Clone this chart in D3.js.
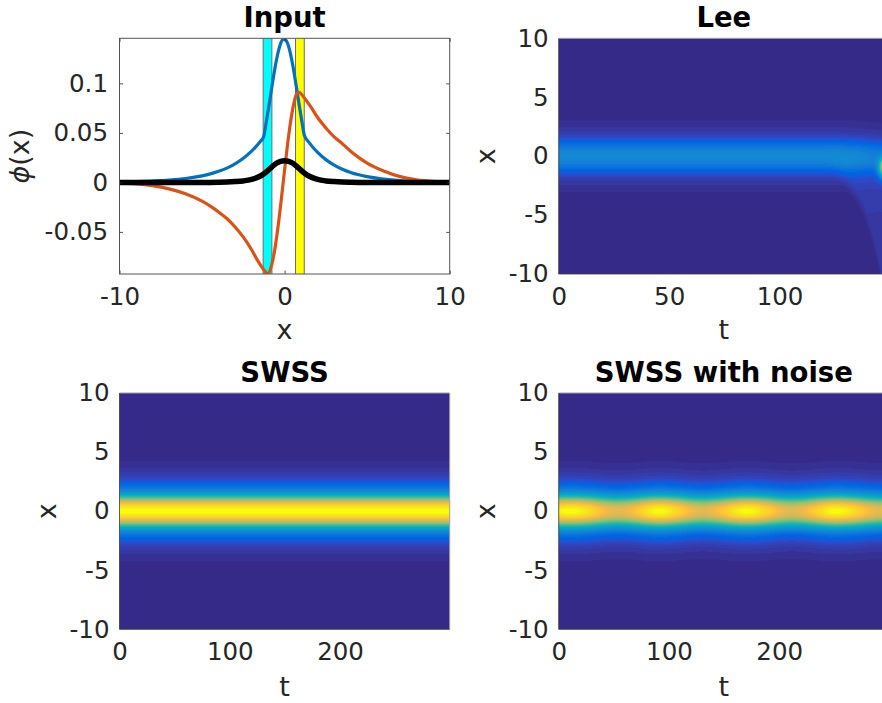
<!DOCTYPE html>
<html>
<head>
<meta charset="utf-8">
<script src="https://cdn.jsdelivr.net/npm/d3@7"></script>
<style>
  html, body { margin: 0; padding: 0; background: #fff; }
  svg { display: block; font-family: 'DejaVu Sans', sans-serif; }
</style>
</head>
<body>
<svg id="fig" width="882" height="703"></svg>
<script>
// ---------------- data: "Input" panel ----------------
const phiXTicks = [-10, 0, 10];
const phiYTicks = [-0.05, 0, 0.05, 0.1];
const phiYTickLabels = ["-0.05", "0", "0.05", "0.1"];

const blueX = [-10, -9, -8, -7, -6, -5, -4.5, -4, -3.5, -3, -2.5, -2, -1.75, -1.5, -1.27,
  -1.1, -0.9, -0.7, -0.5, -0.3, -0.15, 0, 0.15, 0.3, 0.5, 0.7, 0.9, 1.05, 1.2,
  1.5, 1.75, 2, 2.5, 3, 3.5, 4, 4.5, 5, 6, 7, 8, 9, 10];
const blueY = [0.0005, 0.0008, 0.0014, 0.0023, 0.0039, 0.0066, 0.0086, 0.0112, 0.0144, 0.0187, 0.0243, 0.0315, 0.0358, 0.0408, 0.046,
  0.0622, 0.0828, 0.104, 0.1231, 0.1373, 0.1435, 0.1449, 0.1416, 0.1338, 0.1178, 0.0978, 0.0765, 0.0612, 0.0473,
  0.0399, 0.0347, 0.0303, 0.0230, 0.0175, 0.0133, 0.0101, 0.0077, 0.0058, 0.0034, 0.0019, 0.0011, 0.0006, 0.0004];

const orangeX = [-10, -9, -8, -7, -6, -5, -4.5, -4, -3.5, -3, -2.5, -2, -1.7, -1.4, -1.2, -1.05,
  -0.8, -0.6, -0.4, -0.2, 0, 0.2, 0.4, 0.6, 0.75, 0.88,
  1.05, 1.3, 1.6, 2, 2.5, 3, 3.5, 4, 4.5, 5, 6, 7, 8, 9, 10];
const orangeY = [-0.0008, -0.0015, -0.0033, -0.0065, -0.0115, -0.019, -0.024, -0.0298, -0.0365, -0.045, -0.0553, -0.068, -0.077, -0.085, -0.0895, -0.0925,
  -0.0845, -0.0684, -0.0451, -0.0171, 0.0127, 0.0412, 0.0653, 0.0826, 0.09, 0.091,
  0.0885, 0.083, 0.076, 0.0655, 0.055, 0.046, 0.039, 0.0315, 0.025, 0.0195, 0.0115, 0.0058, 0.0025, 0.001, 0.0004];

const blackX = [-10, -5, -4, -3.5, -3, -2.5, -2, -1.5, -1.25, -1, -0.75, -0.5, -0.25, 0,
  0.25, 0.5, 0.75, 1, 1.25, 1.5, 2, 2.5, 3, 3.5, 4, 5, 10];
const blackY = [0, 0, 0.0002, 0.0004, 0.0008, 0.0015, 0.003, 0.0062, 0.0088, 0.0122, 0.016, 0.0193, 0.0212, 0.0218,
  0.0212, 0.0193, 0.016, 0.0122, 0.0088, 0.0062, 0.003, 0.0015, 0.0008, 0.0004, 0.0002, 0, 0];

const cyanBand = [-1.3, -0.77];
const yellowBand = [0.66, 1.19];

// ---------------- data: space-time maps ----------------
const mapXTicks = [-10, -5, 0, 5, 10];
const leeTTicks = [0, 50, 100];
const swssTTicks = [0, 100, 200];

// soliton intensity profile |x| -> relative level
const profX = [0, 0.25, 0.5, 0.75, 1, 1.25, 1.5, 1.75, 2, 2.25, 2.5, 2.75, 3, 3.25, 3.5, 3.75, 4, 4.25, 4.5, 5, 5.5, 6, 7, 10];
const profV = [1, 0.975, 0.9, 0.78, 0.63, 0.48, 0.36, 0.26, 0.19, 0.145, 0.11, 0.083, 0.063, 0.048, 0.037, 0.028, 0.021, 0.016, 0.012, 0.007, 0.004, 0.002, 0.0005, 0];

// breathing peak level of the noisy run
const noiseT = [0, 10, 20, 30, 40, 50, 60, 70, 80, 90, 100, 110, 120, 130, 140, 150, 160, 170, 180, 190, 200, 210, 220, 230, 240, 250, 260, 270, 280, 290, 300];
const noiseAmp = [0.98, 1.0, 0.98, 0.92, 0.84, 0.79, 0.8, 0.86, 0.95, 1.0, 0.97, 0.9, 0.82, 0.78, 0.81, 0.88, 0.96, 1.0, 0.97, 0.9, 0.82, 0.78, 0.8, 0.87, 0.95, 1.0, 0.98, 0.92, 0.84, 0.79, 0.8];

// Lee scheme: weak band, then collapse near the end of the run
const leeBandLevel = 0.27;
const leeFadeT = [0, 125, 135, 142, 150];
const leeFadeA = [1, 1, 0.92, 0.8, 0.7];
const leeFrontT = [120, 128, 134, 139, 143, 146];
const leeFrontX = [-1.5, -2.5, -4, -6, -8.5, -11];
const leeRadLevel = 0.045;
const leeSpot = { t: 147.5, x: -1.0, st: 2.6, sx: 0.8, peak: 0.6 };

// parula colormap (64 entries)
const parula = [
[0.2081,0.1663,0.5292],[0.2116,0.1898,0.5777],[0.2123,0.2138,0.6270],[0.2081,0.2386,0.6771],
[0.1959,0.2645,0.7279],[0.1707,0.2919,0.7792],[0.1253,0.3242,0.8303],[0.0591,0.3598,0.8683],
[0.0117,0.3875,0.8820],[0.0060,0.4086,0.8828],[0.0165,0.4266,0.8786],[0.0329,0.4430,0.8720],
[0.0498,0.4586,0.8641],[0.0629,0.4737,0.8554],[0.0723,0.4887,0.8467],[0.0779,0.5040,0.8384],
[0.0793,0.5200,0.8312],[0.0749,0.5375,0.8263],[0.0641,0.5570,0.8240],[0.0488,0.5772,0.8228],
[0.0343,0.5966,0.8199],[0.0265,0.6137,0.8135],[0.0239,0.6287,0.8038],[0.0231,0.6418,0.7913],
[0.0228,0.6535,0.7768],[0.0267,0.6642,0.7607],[0.0384,0.6743,0.7436],[0.0590,0.6838,0.7254],
[0.0843,0.6928,0.7062],[0.1133,0.7015,0.6859],[0.1453,0.7098,0.6646],[0.1801,0.7177,0.6424],
[0.2178,0.7250,0.6193],[0.2586,0.7317,0.5954],[0.3022,0.7376,0.5712],[0.3482,0.7424,0.5473],
[0.3953,0.7459,0.5244],[0.4420,0.7481,0.5033],[0.4871,0.7491,0.4840],[0.5300,0.7491,0.4661],
[0.5709,0.7485,0.4494],[0.6099,0.7473,0.4337],[0.6473,0.7456,0.4188],[0.6834,0.7435,0.4044],
[0.7184,0.7411,0.3905],[0.7525,0.7384,0.3768],[0.7858,0.7356,0.3633],[0.8185,0.7327,0.3498],
[0.8507,0.7299,0.3360],[0.8824,0.7274,0.3217],[0.9139,0.7258,0.3063],[0.9450,0.7261,0.2886],
[0.9739,0.7314,0.2666],[0.9938,0.7455,0.2403],[0.9990,0.7653,0.2164],[0.9955,0.7861,0.1967],
[0.9880,0.8066,0.1794],[0.9789,0.8271,0.1633],[0.9697,0.8481,0.1475],[0.9626,0.8705,0.1309],
[0.9589,0.8949,0.1132],[0.9598,0.9218,0.0948],[0.9661,0.9514,0.0755],[0.9763,0.9831,0.0538]];

// ---------------- layout ----------------
const TICK_FS = 24.5, LABEL_FS = 27, TITLE_FS = 27.5;
const TXT = "#262626";
const panels = {
  input: { l: 119.5, r: 449.7, t: 38.3, b: 274 },
  lee:   { l: 558.7, r: 888.9, t: 38.3, b: 274 },
  swss:  { l: 119.5, r: 449.7, t: 393, b: 629.3 },
  noise: { l: 558.7, r: 888.9, t: 393, b: 629.3 }
};
const fmt = d => String(d);

const svg = d3.select("#fig");

// cubic Hermite lookup through read samples
function hermite(xs, ys) {
  const n = xs.length;
  const m = ys.map((_, i) => i === 0 ? (ys[1] - ys[0]) / (xs[1] - xs[0])
    : i === n - 1 ? (ys[n - 1] - ys[n - 2]) / (xs[n - 1] - xs[n - 2])
    : (ys[i + 1] - ys[i - 1]) / (xs[i + 1] - xs[i - 1]));
  return v => {
    if (v <= xs[0]) return ys[0];
    if (v >= xs[n - 1]) return ys[n - 1];
    const i = Math.min(n - 2, d3.bisectRight(xs, v) - 1);
    const h = xs[i + 1] - xs[i], s = (v - xs[i]) / h, s2 = s * s, s3 = s2 * s;
    return (2 * s3 - 3 * s2 + 1) * ys[i] + (s3 - 2 * s2 + s) * h * m[i]
      + (-2 * s3 + 3 * s2) * ys[i + 1] + (s3 - s2) * h * m[i + 1];
  };
}

const fullProfX = profX.slice(1).reverse().map(v => -v).concat(profX);
const fullProfV = profV.slice(1).reverse().concat(profV);
const profile = hermite(fullProfX, fullProfV);
const P = x => Math.max(0, profile(x));

const noiseLevel = hermite(noiseT, noiseAmp);
const leeFade = d3.scaleLinear().domain(leeFadeT).range(leeFadeA).clamp(true);
const leeFront = hermite(leeFrontT, leeFrontX);

function colorOf(v) {
  const idx = Math.max(0, Math.min(63, Math.floor(v * 64)));
  return parula[idx];
}

// ---------------- Input panel ----------------
(function drawInput() {
  const p = panels.input;
  const x = d3.scaleLinear().domain([-10, 10]).range([p.l, p.r]);
  const y = d3.scaleLinear().domain([-0.0925, 0.1455]).range([p.b, p.t]);
  const g = svg.append("g");

  g.append("clipPath").attr("id", "clipInput")
    .append("rect").attr("x", p.l).attr("y", p.t).attr("width", p.r - p.l).attr("height", p.b - p.t);

  const body = g.append("g").attr("clip-path", "url(#clipInput)");
  [[cyanBand, "#00ffff"], [yellowBand, "#ffff00"]].forEach(([band, col]) => {
    body.append("rect")
      .attr("x", x(band[0])).attr("y", p.t - 2)
      .attr("width", x(band[1]) - x(band[0])).attr("height", p.b - p.t + 4)
      .attr("fill", col).attr("stroke", "#6e6e6e").attr("stroke-width", 1);
  });

  const line = (xs, ys) => d3.line().x((d, i) => x(xs[i])).y((d, i) => y(ys[i])).curve(d3.curveMonotoneX)(xs);
  body.append("path").attr("d", line(blueX, blueY)).attr("fill", "none").attr("stroke", "#0072bd").attr("stroke-width", 3.2);
  body.append("path").attr("d", line(orangeX, orangeY)).attr("fill", "none").attr("stroke", "#d95319").attr("stroke-width", 3.2);
  body.append("path").attr("d", line(blackX, blackY)).attr("fill", "none").attr("stroke", "#000").attr("stroke-width", 5.5);

  // axes (ticks point inward, box on)
  const bottom = g.append("g").attr("transform", `translate(0,${p.b})`)
    .call(d3.axisBottom(x).tickValues(phiXTicks).tickFormat(fmt).tickSizeInner(-3.5).tickSizeOuter(0).tickPadding(13.5));
  const top = g.append("g").attr("transform", `translate(0,${p.t})`)
    .call(d3.axisTop(x).tickValues(phiXTicks).tickFormat("").tickSizeInner(-3.5).tickSizeOuter(0));
  const left = g.append("g").attr("transform", `translate(${p.l},0)`)
    .call(d3.axisLeft(y).tickValues(phiYTicks).tickFormat((d, i) => phiYTickLabels[i]).tickSizeInner(-3.5).tickSizeOuter(0).tickPadding(11.5));
  const right = g.append("g").attr("transform", `translate(${p.r},0)`)
    .call(d3.axisRight(y).tickValues(phiYTicks).tickFormat("").tickSizeInner(-3.5).tickSizeOuter(0));
  [bottom, top, left, right].forEach(a => {
    a.select(".domain").remove();
    a.selectAll("line").attr("stroke", TXT).attr("stroke-width", 0.8);
    a.selectAll("text").attr("fill", TXT).style("font-size", TICK_FS + "px").style("font-family", "'DejaVu Sans', sans-serif");
  });
  g.append("rect").attr("x", p.l).attr("y", p.t).attr("width", p.r - p.l).attr("height", p.b - p.t)
    .attr("fill", "none").attr("stroke", "#555").attr("stroke-width", 1);

  g.append("text").attr("x", (p.l + p.r) / 2).attr("y", 27).attr("text-anchor", "middle")
    .style("font-size", TITLE_FS + "px").style("font-weight", "bold").text("Input");
  g.append("text").attr("x", (p.l + p.r) / 2).attr("y", 339).attr("text-anchor", "middle")
    .attr("fill", TXT).style("font-size", LABEL_FS + "px").text("x");
  const yl = g.append("text").attr("transform", `translate(29,${(p.t + p.b) / 2}) rotate(-90)`)
    .attr("text-anchor", "middle").attr("fill", TXT).style("font-size", LABEL_FS + "px");
  yl.append("tspan").style("font-style", "italic").text("ϕ");
  yl.append("tspan").text("(x)");
})();

// ---------------- space-time panels ----------------
function drawMap(p, tDomain, tTicks, title, field) {
  const t = d3.scaleLinear().domain(tDomain).range([p.l, p.r]);
  const x = d3.scaleLinear().domain([-10, 10]).range([p.b, p.t]);
  const g = svg.append("g");

  const w = Math.round(p.r - p.l), h = Math.round(p.b - p.t);
  const cv = document.createElement("canvas");
  cv.width = w; cv.height = h;
  const ctx = cv.getContext("2d");
  const img = ctx.createImageData(w, h);
  for (let j = 0; j < h; j++) {
    const xv = x.invert(p.t + (j + 0.5) * (p.b - p.t) / h);
    for (let i = 0; i < w; i++) {
      const tv = t.invert(p.l + (i + 0.5) * (p.r - p.l) / w);
      const c = colorOf(field(xv, tv));
      const k = 4 * (j * w + i);
      img.data[k] = Math.round(c[0] * 255);
      img.data[k + 1] = Math.round(c[1] * 255);
      img.data[k + 2] = Math.round(c[2] * 255);
      img.data[k + 3] = 255;
    }
  }
  ctx.putImageData(img, 0, 0);

  const bottom = g.append("g").attr("transform", `translate(0,${p.b})`)
    .call(d3.axisBottom(t).tickValues(tTicks).tickFormat(fmt).tickSize(0).tickPadding(13.5));
  const left = g.append("g").attr("transform", `translate(${p.l},0)`)
    .call(d3.axisLeft(x).tickValues(mapXTicks).tickFormat(fmt).tickSize(0).tickPadding(10));
  [bottom, left].forEach(a => {
    a.select(".domain").remove();
    a.selectAll("text").attr("fill", TXT).style("font-size", TICK_FS + "px").style("font-family", "'DejaVu Sans', sans-serif");
  });

  g.append("image").attr("x", p.l).attr("y", p.t).attr("width", p.r - p.l).attr("height", p.b - p.t)
    .attr("preserveAspectRatio", "none").attr("href", cv.toDataURL());

  g.append("path").attr("d", `M${p.l},${p.t}H${p.r}V${p.b}`).attr("fill", "none").attr("stroke", "#a0a0a0").attr("stroke-width", 1);
  g.append("path").attr("d", `M${p.l},${p.t}V${p.b}H${p.r}`).attr("fill", "none").attr("stroke", "#3a3a3a").attr("stroke-width", 0.8);

  const titleY = p.t < 100 ? 27 : 382;
  const labelY = p.t < 100 ? 339 : 696;
  g.append("text").attr("x", (p.l + p.r) / 2).attr("y", titleY).attr("text-anchor", "middle")
    .style("font-size", TITLE_FS + "px").style("font-weight", "bold").text(title);
  g.append("text").attr("x", (p.l + p.r) / 2).attr("y", labelY).attr("text-anchor", "middle")
    .attr("fill", TXT).style("font-size", LABEL_FS + "px").text("t");
  g.append("text").attr("transform", `translate(${p.l - 63.7},${(p.t + p.b) / 2}) rotate(-90)`)
    .attr("text-anchor", "middle").attr("fill", TXT).style("font-size", LABEL_FS + "px").text("x");
}

// Lee: band, dispersive tail and collapse spot
drawMap(panels.lee, [0, 149.5], leeTTicks, "Lee", (x, t) => {
  let v = leeBandLevel * leeFade(t) * P(x);
  if (t > leeFrontT[0]) {
    const xf = leeFront(t);
    const grow = Math.min(1, (t - leeFrontT[0]) / 10);
    const edge = Math.max(0, Math.min(1, (x - xf) / 1.5));
    const upper = x > -0.5 ? Math.exp(-(x + 0.5) * 1.5) : 1;
    v += leeRadLevel * grow * edge * upper;
  }
  const dt = (t - leeSpot.t) / leeSpot.st, dx = (x - leeSpot.x) / leeSpot.sx;
  v += leeSpot.peak * Math.exp(-dt * dt - dx * dx);
  return v;
});

drawMap(panels.swss, [0, 299.5], swssTTicks, "SWSS", (x, t) => P(x));

drawMap(panels.noise, [0, 299.5], swssTTicks, "SWSS with noise", (x, t) => noiseLevel(t) * P(x));
</script>
</body>
</html>
